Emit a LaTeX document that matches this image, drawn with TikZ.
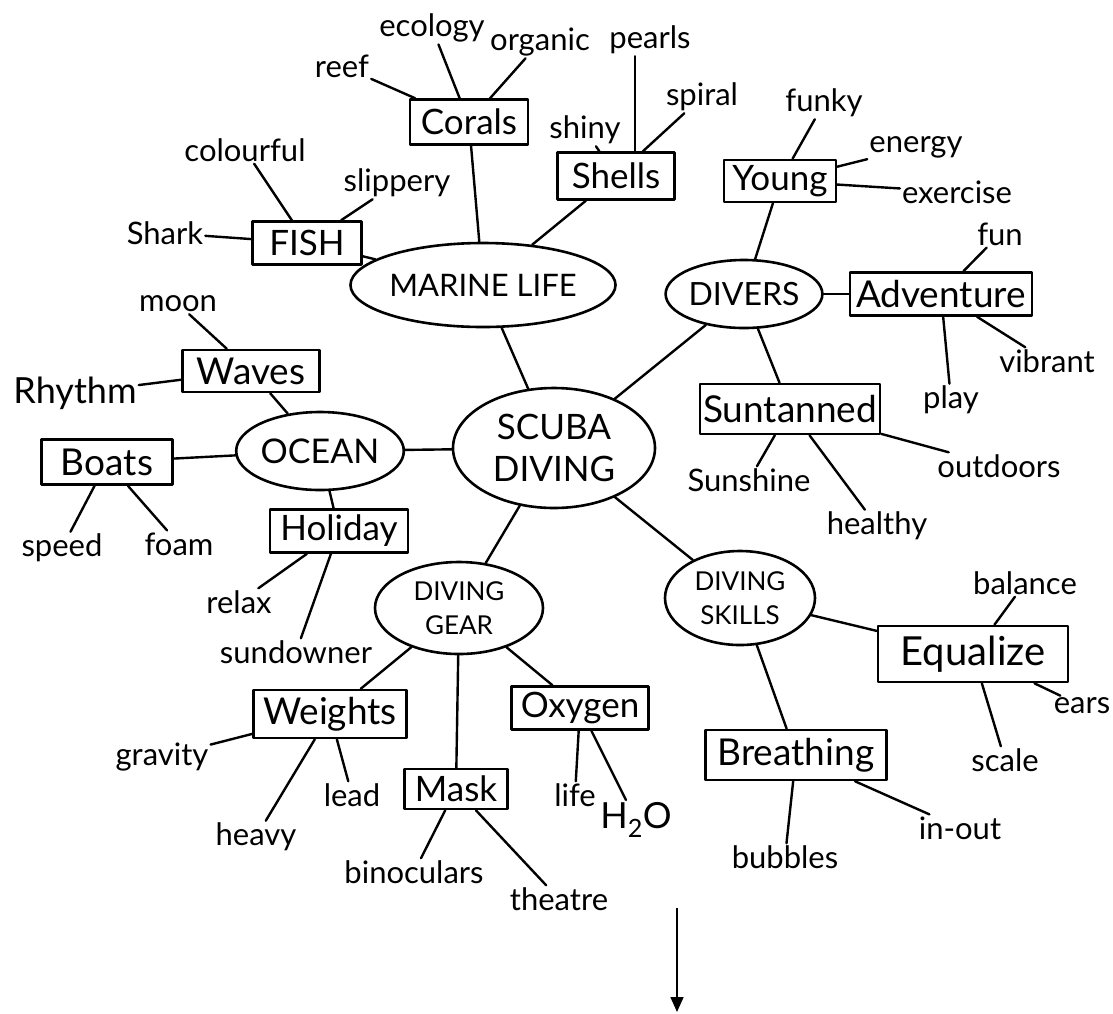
\documentclass[tikz,border=0pt]{standalone}
\usepackage{fontspec}
\setmainfont{Lato}
\usetikzlibrary{shapes.geometric,arrows.meta}
\begin{document}
\begin{tikzpicture}[x=1pt,y=-1pt,line cap=round,line join=round,
  hub/.style={draw,ellipse,line width=2.6pt,inner sep=0pt,align=center,font=\fontsize{31}{35}\selectfont},
  box/.style={draw,rectangle,line width=2.6pt,inner sep=0pt,font=\fontsize{35}{38}\selectfont},
  leaf/.style={inner sep=2pt,font=\fontsize{31}{33}\selectfont},
  link/.style={line width=2.4pt}]
\useasboundingbox (0,0) rectangle (1113,1013);
% hubs
\node[hub,minimum width=202pt,minimum height=120pt,font=\fontsize{35}{42}\selectfont] (scuba) at (554,448) {SCUBA\\DIVING};
\node[hub,minimum width=194pt,minimum height=84pt] (marine) at (483,285) {MARINE LIFE};
\node[hub,minimum width=148pt,minimum height=68pt,font=\fontsize{32}{34}\selectfont] (divers) at (744,294) {DIVERS};
\node[hub,minimum width=150pt,minimum height=78pt,font=\fontsize{34}{34}\selectfont] (ocean) at (320,451) {OCEAN};
\node[hub,minimum width=168pt,minimum height=92pt,font=\fontsize{26}{34}\selectfont] (gear) at (459,608) {DIVING\\GEAR};
\node[hub,minimum width=150pt,minimum height=94pt,font=\fontsize{26}{34}\selectfont] (skills) at (740,598) {DIVING\\SKILLS};
% boxes
\node[box,minimum width=118pt,minimum height=45pt] (corals) at (469,122) {Corals};
\node[box,minimum width=117pt,minimum height=47pt] (shells) at (616,176) {Shells};
\node[box,minimum width=112pt,minimum height=42pt] (young) at (780,181) {Young};
\node[box,minimum width=109pt,minimum height=43pt] (fish) at (307,243) {FISH};
\node[box,minimum width=182pt,minimum height=43pt,font=\fontsize{37}{38}\selectfont] (adv) at (941,294) {Adventure};
\node[box,minimum width=137pt,minimum height=42pt,font=\fontsize{37}{38}\selectfont] (waves) at (251,371) {Waves};
\node[box,minimum width=131pt,minimum height=45pt,font=\fontsize{37}{38}\selectfont] (boats) at (107,462) {Boats};
\node[box,minimum width=138pt,minimum height=43pt] (holiday) at (339,531) {Holiday};
\node[box,minimum width=180pt,minimum height=50pt,font=\fontsize{37}{38}\selectfont] (sun) at (790,409) {Suntanned};
\node[box,minimum width=190pt,minimum height=56pt,font=\fontsize{40}{42}\selectfont] (equal) at (973,654) {Equalize};
\node[box,minimum width=153pt,minimum height=48pt,font=\fontsize{37}{38}\selectfont] (weights) at (330,714) {Weights};
\node[box,minimum width=103pt,minimum height=40pt] (mask) at (456,789) {Mask};
\node[box,minimum width=137pt,minimum height=43pt] (oxygen) at (580,708) {Oxygen};
\node[box,minimum width=181pt,minimum height=50pt,font=\fontsize{37}{38}\selectfont] (breath) at (796,755) {Breathing};
% leaves
\node[leaf] (reef) at (342,66) {reef};
\node[leaf] (ecology) at (432,28) {ecology};
\node[leaf] (organic) at (540,42) {organic};
\node[leaf] (colourful) at (245,150) {colourful};
\node[leaf] (slippery) at (397,183) {slippery};
\node[leaf] (shark) at (165,233) {Shark};
\node[leaf] (pearls) at (650,40) {pearls};
\node[leaf] (shiny) at (585,130) {shiny};
\node[leaf] (spiral) at (702,97) {spiral};
\node[leaf] (funky) at (824,103) {funky};
\node[leaf] (energy) at (916,147) {energy};
\node[leaf] (exercise) at (957,192) {exercise};
\node[leaf] (fun) at (1000,234) {fun};
\node[leaf] (vibrant) at (1047,361) {vibrant};
\node[leaf] (play) at (951,400) {play};
\node[leaf] (moon) at (178,304) {moon};
\node[leaf,font=\fontsize{36}{38}\selectfont] (rhythm) at (75,393) {Rhythm};
\node[leaf] (speed) at (62,548) {speed};
\node[leaf] (foam) at (179,544) {foam};
\node[leaf] (relax) at (239,602) {relax};
\node[leaf] (sundowner) at (296,652) {sundowner};
\node[leaf] (sunshine) at (749,480) {Sunshine};
\node[leaf] (outdoors) at (999,466) {outdoors};
\node[leaf] (healthy) at (877,526) {healthy};
\node[leaf] (balance) at (1025,583) {balance};
\node[leaf] (ears) at (1082,706) {ears};
\node[leaf] (scale) at (1005,760) {scale};
\node[leaf] (gravity) at (162,757) {gravity};
\node[leaf] (heavy) at (256,837) {heavy};
\node[leaf] (lead) at (352,795) {lead};
\node[leaf] (life) at (575,795) {life};
\node[leaf,font=\fontsize{36}{38}\selectfont] (water) at (636,820) {H\textsubscript{2}O};
\node[leaf] (binoc) at (414,872) {binoculars};
\node[leaf] (theatre) at (559,899) {theatre};
\node[leaf] (bubbles) at (785,857) {bubbles};
\node[leaf] (inout) at (960,828) {in-out};
% links
\begin{scope}[link]
\draw (scuba) -- (marine);
\draw (scuba) -- (divers);
\draw (scuba) -- (ocean);
\draw (scuba) -- (gear);
\draw (scuba) -- (skills);
\draw (marine) -- (corals);
\draw (marine) -- (shells);
\draw (marine) -- (fish);
\draw (corals) -- (reef);
\draw (corals) -- (ecology);
\draw (corals) -- (organic);
\draw (fish) -- (shark);
\draw (fish) -- (colourful);
\draw (fish) -- (slippery);
\draw (shells) -- (shiny);
\draw ([xshift=19pt]shells.north) -- ([xshift=-15pt]pearls.south);
\draw (shells) -- (spiral);
\draw (divers) -- (young);
\draw (divers) -- (adv);
\draw (divers) -- (sun);
\draw (young) -- (funky);
\draw (young) -- (energy);
\draw (young) -- (exercise);
\draw (adv) -- (fun);
\draw (adv) -- (vibrant);
\draw (adv) -- (play);
\draw (sun) -- (sunshine);
\draw (sun) -- (healthy);
\draw (sun) -- (outdoors);
\draw (ocean) -- (waves);
\draw (ocean) -- (boats);
\draw (ocean) -- (holiday);
\draw (waves) -- (moon);
\draw (waves) -- (rhythm);
\draw (boats) -- (speed);
\draw (boats) -- (foam);
\draw (holiday) -- (relax);
\draw (holiday) -- (sundowner);
\draw (gear) -- (weights);
\draw (gear) -- (mask);
\draw (gear) -- (oxygen);
\draw (weights) -- (gravity);
\draw (weights) -- (heavy);
\draw (weights) -- (lead);
\draw (mask) -- (binoc);
\draw (mask) -- (theatre);
\draw (oxygen) -- (life);
\draw (oxygen) -- (water);
\draw (skills) -- (equal);
\draw (skills) -- (breath);
\draw (equal) -- (balance);
\draw (equal) -- (ears);
\draw (equal) -- (scale);
\draw (breath) -- (bubbles);
\draw (breath) -- (inout);
\end{scope}
% arrow
\coordinate (arrS) at (677,908);
\coordinate (arrE) at (677,1012);
\draw[line width=1.6pt,line cap=butt,-{Triangle[width=13pt,length=15pt]}] (arrS) -- (arrE);
\end{tikzpicture}
\end{document}
